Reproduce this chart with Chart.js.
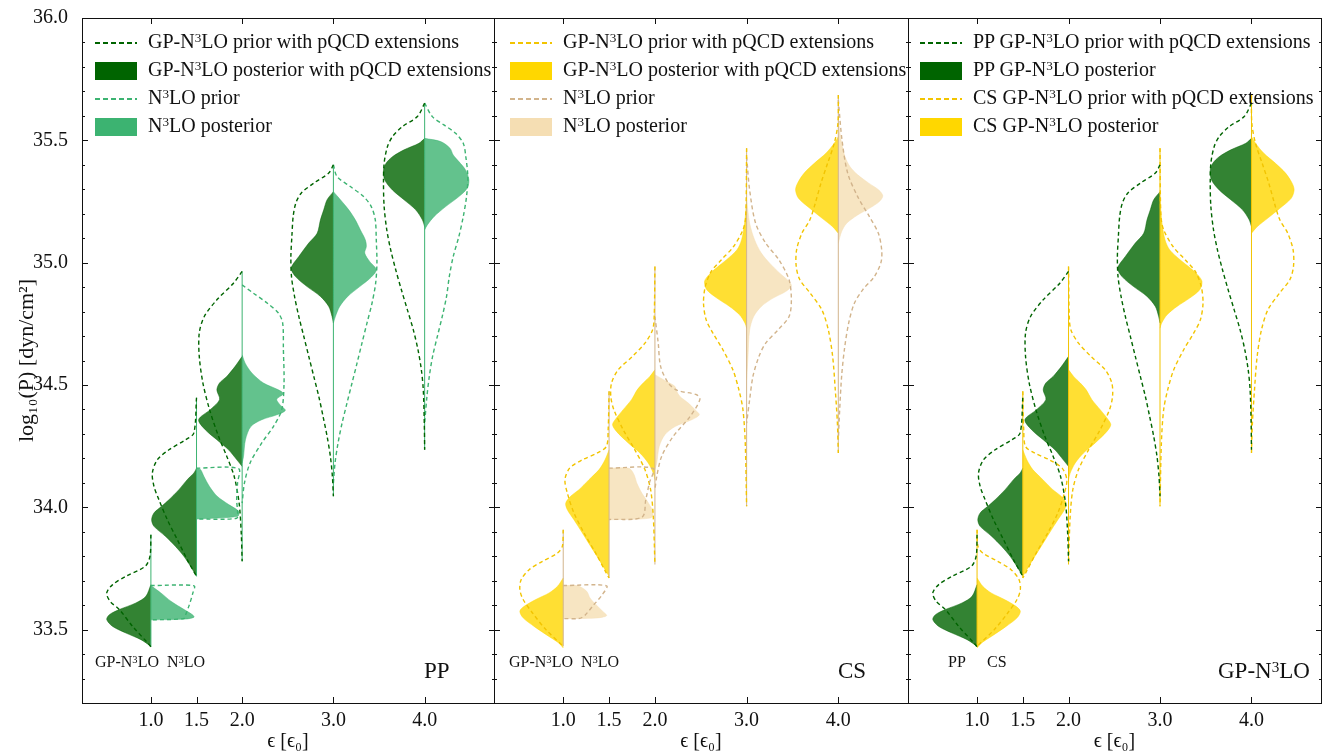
<!DOCTYPE html>
<html>
<head>
<meta charset="utf-8">
<script src="https://cdn.jsdelivr.net/npm/chart.js@4.4.1/dist/chart.umd.min.js"></script>
<style>
  html, body { margin: 0; padding: 0; background: #fff; overflow: hidden; }
  #wrap { position: relative; width: 1322px; height: 755px; font-family: 'Liberation Serif', 'DejaVu Serif', serif; color: #111; }
  #wrap canvas { position: absolute; left: 0; top: 0; }
  .lab { position: absolute; white-space: nowrap; line-height: 1; }
  .lab sup, .leg sup { font-size: 0.66em; vertical-align: 0.42em; line-height: 0; }
  .leg { position: absolute; font-size: 20px; line-height: 1; white-space: nowrap; }
  .dash { position: absolute; width: 42px; height: 1.5px; }
  .patch { position: absolute; width: 42px; height: 18px; }
</style>
</head>
<body>
<div id="wrap">
  <canvas id="c1" width="1322" height="755"></canvas>
  <canvas id="c2" width="1322" height="755"></canvas>
  <canvas id="c3" width="1322" height="755"></canvas>
</div>
<script>
// energy densities (x positions of the violins) and axis ticks
const eps = [1.0, 1.5, 2.0, 3.0, 4.0];
const yTicks = [33.5, 34.0, 34.5, 35.0, 35.5, 36.0];

// each violin half: [log10(P), half width in eps units], top to bottom
// PP, GP-N3LO (with pQCD extensions)
const ppGpPost = [
  [[33.684,0],[33.636,0.055],[33.609,0.164],[33.582,0.346],[33.561,0.455],[33.541,0.484],[33.513,0.419],[33.486,0.273],[33.459,0.109],[33.432,0]],
  [[34.160,0],[34.140,0.029],[34.113,0.102],[34.072,0.193],[34.031,0.302],[34.004,0.383],[33.977,0.466],[33.949,0.492],[33.922,0.466],[33.881,0.339],[33.840,0.230],[33.800,0.139],[33.759,0.066],[33.718,0]],
  [[34.617,0],[34.576,0.077],[34.535,0.168],[34.508,0.248],[34.480,0.277],[34.440,0.248],[34.399,0.350],[34.358,0.477],[34.317,0.404],[34.276,0.277],[34.235,0.149],[34.194,0.058],[34.167,0]],
  [[35.290,0],[35.257,0.069],[35.216,0.106],[35.175,0.142],[35.120,0.178],[35.080,0.270],[35.025,0.379],[34.978,0.462],[34.943,0.415],[34.902,0.288],[34.862,0.142],[34.821,0.051],[34.780,0.015],[34.753,0]],
  [[35.508,0],[35.488,0.062],[35.461,0.226],[35.433,0.353],[35.406,0.423],[35.379,0.451],[35.338,0.437],[35.297,0.353],[35.257,0.226],[35.216,0.098],[35.175,0.025],[35.147,0]]
];
const ppGpPrior = [
  [[33.888,0],[33.800,0.010],[33.759,0.062],[33.718,0.273],[33.684,0.419],[33.650,0.484],[33.616,0.448],[33.582,0.346],[33.513,0.200],[33.446,0.036],[33.430,0]],
  [[34.448,0],[34.303,0.030],[34.276,0.120],[34.235,0.302],[34.194,0.430],[34.140,0.484],[34.085,0.466],[34.031,0.412],[33.949,0.320],[33.868,0.211],[33.786,0.102],[33.718,0]],
  [[34.964,0],[34.916,0.095],[34.848,0.277],[34.780,0.415],[34.712,0.470],[34.617,0.470],[34.508,0.430],[34.399,0.357],[34.290,0.259],[34.208,0.168],[34.126,0.087],[34.017,0.033],[33.895,0.010],[33.779,0]],
  [[35.400,0],[35.366,0.051],[35.325,0.215],[35.284,0.353],[35.243,0.412],[35.188,0.441],[35.107,0.455],[35.025,0.466],[34.943,0.459],[34.862,0.426],[34.780,0.379],[34.698,0.324],[34.617,0.270],[34.535,0.215],[34.453,0.160],[34.371,0.113],[34.290,0.069],[34.208,0.033],[34.126,0.011],[34.045,0]],
  [[35.652,0],[35.597,0.080],[35.556,0.244],[35.515,0.353],[35.474,0.408],[35.406,0.444],[35.325,0.451],[35.229,0.444],[35.134,0.415],[35.052,0.372],[34.971,0.317],[34.889,0.255],[34.807,0.189],[34.725,0.124],[34.644,0.073],[34.562,0.036],[34.480,0.015],[34.344,0.004],[34.235,0]]
];
// PP, N3LO
const ppN3Post = [
  [[33.680,0],[33.650,0.109],[33.616,0.219],[33.582,0.364],[33.561,0.455],[33.551,0.473],[33.543,0.380],[33.540,0]],
  [[34.160,0],[34.154,0.044],[34.127,0.080],[34.085,0.142],[34.045,0.226],[34.011,0.353],[33.983,0.463],[33.963,0.450],[33.952,0]],
  [[34.623,0],[34.589,0.033],[34.549,0.106],[34.508,0.233],[34.480,0.397],[34.464,0.452],[34.442,0.379],[34.419,0.415],[34.396,0.473],[34.378,0.380],[34.358,0.215],[34.330,0.095],[34.276,0.036],[34.208,0.015],[34.181,0]],
  [[35.290,0],[35.257,0.077],[35.216,0.168],[35.175,0.240],[35.134,0.295],[35.093,0.350],[35.066,0.361],[35.039,0.343],[35.005,0.397],[34.971,0.470],[34.937,0.404],[34.902,0.288],[34.862,0.157],[34.821,0.069],[34.780,0.022],[34.753,0]],
  [[35.508,0],[35.495,0.175],[35.468,0.277],[35.440,0.313],[35.413,0.375],[35.379,0.448],[35.338,0.485],[35.304,0.466],[35.270,0.375],[35.229,0.230],[35.188,0.102],[35.154,0.029],[35.134,0]]
];
const ppN3Prior = [
  [[33.680,0],[33.679,0.473],[33.650,0.460],[33.600,0.420],[33.560,0.380],[33.545,0.360],[33.540,0]],
  [[34.160,0],[34.158,0.460],[34.100,0.450],[34.030,0.440],[33.980,0.450],[33.955,0.440],[33.952,0]],
  [[34.909,0],[34.875,0.124],[34.834,0.277],[34.794,0.397],[34.753,0.444],[34.644,0.452],[34.508,0.459],[34.399,0.434],[34.330,0.342],[34.263,0.215],[34.181,0.087],[34.099,0.025],[34.017,0]],
  [[35.400,0],[35.352,0.040],[35.311,0.186],[35.270,0.331],[35.229,0.415],[35.175,0.459],[35.093,0.470],[34.998,0.477],[34.916,0.463],[34.834,0.423],[34.753,0.368],[34.671,0.313],[34.589,0.259],[34.508,0.204],[34.426,0.149],[34.344,0.095],[34.263,0.051],[34.181,0.018],[34.099,0]],
  [[35.652,0],[35.597,0.084],[35.563,0.211],[35.529,0.339],[35.488,0.423],[35.433,0.451],[35.352,0.473],[35.270,0.459],[35.188,0.423],[35.107,0.375],[35.025,0.313],[34.943,0.270],[34.862,0.240],[34.780,0.193],[34.698,0.139],[34.617,0.087],[34.535,0.051],[34.453,0.025],[34.344,0]]
];
// CS, GP-N3LO (with pQCD extensions)
const csGpPost = [
  [[33.711,0],[33.677,0.062],[33.650,0.153],[33.623,0.299],[33.595,0.426],[33.575,0.473],[33.548,0.437],[33.513,0.317],[33.473,0.160],[33.446,0.051],[33.425,0]],
  [[34.235,0],[34.194,0.044],[34.154,0.109],[34.113,0.219],[34.072,0.328],[34.045,0.419],[34.017,0.473],[33.990,0.455],[33.949,0.383],[33.895,0.291],[33.840,0.200],[33.786,0.109],[33.745,0.044],[33.718,0]],
  [[34.562,0],[34.535,0.055],[34.508,0.128],[34.480,0.193],[34.440,0.255],[34.399,0.346],[34.358,0.434],[34.337,0.462],[34.310,0.419],[34.263,0.291],[34.222,0.164],[34.181,0.073],[34.140,0.018],[34.113,0]],
  [[35.257,0],[35.161,0.022],[35.093,0.055],[35.052,0.106],[35.011,0.222],[34.978,0.331],[34.950,0.412],[34.923,0.459],[34.889,0.434],[34.855,0.324],[34.821,0.186],[34.787,0.077],[34.753,0.018],[34.732,0]],
  [[35.515,0],[35.488,0.044],[35.447,0.135],[35.406,0.262],[35.366,0.372],[35.325,0.444],[35.297,0.466],[35.263,0.434],[35.222,0.310],[35.182,0.179],[35.147,0.062],[35.120,0]]
];
const csGpPrior = [
  [[33.908,0],[33.840,0.010],[33.813,0.062],[33.779,0.226],[33.745,0.372],[33.704,0.459],[33.663,0.473],[33.623,0.437],[33.568,0.335],[33.500,0.189],[33.432,0]],
  [[34.474,0],[34.317,0.010],[34.249,0.029],[34.222,0.128],[34.194,0.291],[34.160,0.430],[34.113,0.481],[34.058,0.455],[33.977,0.383],[33.895,0.273],[33.813,0.146],[33.731,0.030],[33.711,0]],
  [[34.984,0],[34.780,0.008],[34.725,0.026],[34.671,0.109],[34.617,0.244],[34.562,0.401],[34.508,0.473],[34.453,0.481],[34.399,0.448],[34.317,0.346],[34.235,0.219],[34.154,0.109],[34.072,0.047],[33.963,0.018],[33.766,0]],
  [[35.468,0],[35.188,0.010],[35.134,0.040],[35.066,0.142],[35.011,0.277],[34.964,0.386],[34.902,0.451],[34.834,0.470],[34.766,0.441],[34.712,0.368],[34.644,0.259],[34.562,0.150],[34.480,0.084],[34.399,0.040],[34.263,0.015],[34.004,0]],
  [[35.685,0],[35.570,0.004],[35.488,0.044],[35.406,0.117],[35.325,0.189],[35.243,0.251],[35.175,0.310],[35.120,0.397],[35.052,0.455],[34.984,0.459],[34.930,0.419],[34.875,0.306],[34.807,0.179],[34.725,0.109],[34.617,0.062],[34.480,0.033],[34.344,0.010],[34.222,0]]
];
// CS, N3LO
const csN3Post = [
  [[33.680,0],[33.679,0.157],[33.657,0.255],[33.629,0.292],[33.602,0.357],[33.575,0.430],[33.557,0.473],[33.547,0.350],[33.545,0]],
  [[34.160,0],[34.159,0.219],[34.133,0.273],[34.099,0.302],[34.058,0.357],[34.017,0.430],[33.977,0.481],[33.956,0.450],[33.949,0]],
  [[34.542,0],[34.514,0.128],[34.494,0.219],[34.474,0.237],[34.453,0.273],[34.426,0.364],[34.399,0.437],[34.378,0.484],[34.358,0.401],[34.330,0.219],[34.297,0.109],[34.249,0.047],[34.181,0.020],[34.154,0]],
  [[35.257,0],[35.161,0.033],[35.093,0.087],[35.039,0.160],[34.998,0.251],[34.957,0.361],[34.923,0.463],[34.905,0.488],[34.882,0.426],[34.855,0.288],[34.821,0.160],[34.780,0.077],[34.725,0.033],[34.617,0.015],[34.521,0]],
  [[35.583,0],[35.502,0.029],[35.433,0.073],[35.392,0.128],[35.359,0.211],[35.325,0.332],[35.297,0.441],[35.273,0.485],[35.250,0.448],[35.222,0.339],[35.195,0.211],[35.161,0.091],[35.127,0.036],[35.080,0]]
];
const csN3Prior = [
  [[33.680,0],[33.679,0.473],[33.640,0.420],[33.600,0.330],[33.560,0.240],[33.546,0.180],[33.545,0]],
  [[34.160,0],[34.159,0.480],[34.100,0.440],[34.030,0.400],[33.960,0.360],[33.950,0]],
  [[34.780,0],[34.671,0.036],[34.576,0.062],[34.508,0.146],[34.478,0.244],[34.460,0.455],[34.440,0.490],[34.371,0.383],[34.290,0.200],[34.208,0.073],[34.126,0.020],[34.072,0]],
  [[35.433,0],[35.297,0.033],[35.161,0.098],[35.080,0.208],[35.011,0.353],[34.930,0.463],[34.848,0.488],[34.780,0.463],[34.725,0.342],[34.671,0.208],[34.617,0.135],[34.535,0.069],[34.440,0.033],[34.344,0]],
  [[35.665,0],[35.502,0.040],[35.366,0.102],[35.270,0.211],[35.188,0.339],[35.120,0.437],[35.052,0.473],[35.002,0.466],[34.943,0.393],[34.889,0.266],[34.834,0.175],[34.753,0.113],[34.644,0.066],[34.535,0.036],[34.399,0.015],[34.276,0]]
];

// colours
const ppGpStyle = {line: '#006400', fill: 'rgba(0,100,0,0.8)', patch: '#006400'};
const ppN3Style = {line: '#3cb371', fill: 'rgba(60,179,113,0.8)', patch: '#3cb371'};
const csGpStyle = {line: '#f2c400', fill: 'rgba(255,215,0,0.8)', patch: '#ffd700'};
const csN3Style = {line: '#d2b48c', fill: 'rgba(245,222,179,0.8)', patch: '#f5deb3'};

const serif = "'Liberation Serif', 'DejaVu Serif', serif";
const font = {family: serif, size: 20, lineHeight: 1};

// one violin half as a closed shape: spine -> density curve -> spine
function halfData(pairs, e, side) {
  const pts = pairs.map(p => ({x: e + side * p[1], y: p[0]}));
  pts.unshift({x: e, y: pairs[0][0]});
  pts.push({x: e, y: pairs[pairs.length - 1][0]});
  return pts;
}

function buildDatasets(halves, spineColor) {
  const sets = [];
  eps.forEach((e, i) => {
    let top = -Infinity, bottom = Infinity;
    halves.forEach(h => {
      const [post, prior, st, side] = h;
      sets.push({data: halfData(post[i], e, side), showLine: true, fill: 'shape',
        backgroundColor: st.fill, borderColor: st.fill, borderWidth: 0.6,
        pointRadius: 0, tension: 0.3, order: 3});
      sets.push({data: halfData(prior[i], e, side), showLine: true, fill: false,
        borderColor: st.line, borderWidth: 1.4, borderDash: [4, 3],
        pointRadius: 0, tension: 0.3, order: 1});
      top = Math.max(top, prior[i][0][0]);
      bottom = Math.min(bottom, prior[i][prior[i].length - 1][0]);
    });
    sets.push({data: [{x: e, y: bottom}, {x: e, y: top}], showLine: true, fill: false,
      borderColor: spineColor, borderWidth: 1, pointRadius: 0, order: 2});
  });
  return sets;
}

// frame with inward ticks on all sides
const frameTicks = {
  id: 'frameTicks',
  afterDraw(chart) {
    const {ctx, chartArea: a, scales: {x, y}} = chart;
    ctx.save();
    ctx.strokeStyle = '#111';
    ctx.lineWidth = 1;
    ctx.strokeRect(a.left + 0.5, a.top + 0.5, a.right - a.left, a.bottom - a.top);
    ctx.beginPath();
    for (let k = 0; k <= 28; k++) {
      const v = 33.2 + k * 0.1;
      const py = Math.round(y.getPixelForValue(v)) + 0.5;
      const len = yTicks.some(t => Math.abs(t - v) < 1e-6) ? 6 : 3;
      ctx.moveTo(a.left, py); ctx.lineTo(a.left + len, py);
      ctx.moveTo(a.right + 1, py); ctx.lineTo(a.right + 1 - len, py);
    }
    eps.forEach(e => {
      const px = Math.round(x.getPixelForValue(e)) + 0.5;
      ctx.moveTo(px, a.bottom); ctx.lineTo(px, a.bottom - 6);
      if (Number.isInteger(e)) { ctx.moveTo(px, a.top); ctx.lineTo(px, a.top + 6); }
    });
    ctx.stroke();
    ctx.restore();
  }
};

const panels = [
  {id: 'c1', left: 82, right: 494, yLabels: true,
   halves: [[ppGpPost, ppGpPrior, ppGpStyle, -1], [ppN3Post, ppN3Prior, ppN3Style, 1]], spine: ppN3Style.line},
  {id: 'c2', left: 494, right: 908, yLabels: false,
   halves: [[csGpPost, csGpPrior, csGpStyle, -1], [csN3Post, csN3Prior, csN3Style, 1]], spine: csN3Style.line},
  {id: 'c3', left: 908, right: 1321, yLabels: false,
   halves: [[ppGpPost, ppGpPrior, ppGpStyle, -1], [csGpPost, csGpPrior, csGpStyle, 1]], spine: csGpStyle.line}
];

panels.forEach(p => {
  new Chart(document.getElementById(p.id), {
    type: 'scatter',
    data: {datasets: buildDatasets(p.halves, p.spine)},
    options: {
      responsive: false,
      animation: false,
      events: [],
      layout: {padding: {left: p.yLabels ? 0 : p.left, right: 1322 - p.right, top: 18, bottom: 0}},
      plugins: {legend: {display: false}, tooltip: {enabled: false}},
      scales: {
        x: {
          type: 'linear', min: 0.245, max: 4.76,
          afterBuildTicks: s => { s.ticks = eps.map(v => ({value: v})); },
          ticks: {callback: v => v.toFixed(1), padding: 0, maxRotation: 0, autoSkip: false, font, color: '#111'},
          grid: {display: false}, border: {display: false},
          title: {display: true, text: 'ϵ [ϵ₀]', font, color: '#111', padding: {top: 9, bottom: 3}},
          afterFit: s => { s.height = 52; }
        },
        y: {
          type: 'linear', min: 33.2, max: 36.0, display: p.yLabels,
          afterBuildTicks: s => { s.ticks = yTicks.map(v => ({value: v})); },
          ticks: {callback: v => v.toFixed(1), padding: 6, font, color: '#111'},
          grid: {display: false}, border: {display: false},
          title: {display: true, text: 'log₁₀(P) [dyn/cm²]', font: {family: serif, size: 22, lineHeight: 1},
                  color: '#111', padding: {top: 16, bottom: 0}},
          afterFit: s => { s.width = p.yLabels ? 82 : 0; }
        }
      }
    },
    plugins: [frameTicks]
  });
});

// legends
const legendRows = [
  {x: 95, rows: [
    ['dash', ppGpStyle, 'GP-N<sup>3</sup>LO prior with pQCD extensions'],
    ['patch', ppGpStyle, 'GP-N<sup>3</sup>LO posterior with pQCD extensions'],
    ['dash', ppN3Style, 'N<sup>3</sup>LO prior'],
    ['patch', ppN3Style, 'N<sup>3</sup>LO posterior']]},
  {x: 510, rows: [
    ['dash', csGpStyle, 'GP-N<sup>3</sup>LO prior with pQCD extensions'],
    ['patch', csGpStyle, 'GP-N<sup>3</sup>LO posterior with pQCD extensions'],
    ['dash', csN3Style, 'N<sup>3</sup>LO prior'],
    ['patch', csN3Style, 'N<sup>3</sup>LO posterior']]},
  {x: 920, rows: [
    ['dash', ppGpStyle, 'PP GP-N<sup>3</sup>LO prior with pQCD extensions'],
    ['patch', ppGpStyle, 'PP GP-N<sup>3</sup>LO posterior'],
    ['dash', csGpStyle, 'CS GP-N<sup>3</sup>LO prior with pQCD extensions'],
    ['patch', csGpStyle, 'CS GP-N<sup>3</sup>LO posterior']]}
];
const wrap = document.getElementById('wrap');
legendRows.forEach(L => {
  L.rows.forEach((r, i) => {
    const cy = 43 + 28 * i;
    const s = document.createElement('div');
    if (r[0] === 'dash') {
      s.className = 'dash';
      s.style.top = (cy - 0.75) + 'px';
      s.style.background = 'repeating-linear-gradient(90deg, ' + r[1].line + ' 0 5px, transparent 5px 8px)';
    } else {
      s.className = 'patch';
      s.style.top = (cy - 9) + 'px';
      s.style.background = r[1].patch;
    }
    s.style.left = L.x + 'px';
    wrap.appendChild(s);
    const t = document.createElement('div');
    t.className = 'leg';
    t.style.left = (L.x + 53) + 'px';
    t.style.top = (cy - 12) + 'px';
    t.innerHTML = r[2];
    wrap.appendChild(t);
  });
});

// annotations
const notes = [
  ['GP-N<sup>3</sup>LO', 95, 654, 16], ['N<sup>3</sup>LO', 167, 654, 16],
  ['GP-N<sup>3</sup>LO', 509, 654, 16], ['N<sup>3</sup>LO', 581, 654, 16],
  ['PP', 948, 654, 16], ['CS', 987, 654, 16],
  ['PP', 424, 659, 23], ['CS', 838, 659, 23], ['GP-N<sup>3</sup>LO', 1218, 659, 23]
];
notes.forEach(n => {
  const d = document.createElement('div');
  d.className = 'lab';
  d.innerHTML = n[0];
  d.style.left = n[1] + 'px';
  d.style.top = n[2] + 'px';
  d.style.fontSize = n[3] + 'px';
  wrap.appendChild(d);
});
</script>
</body>
</html>
